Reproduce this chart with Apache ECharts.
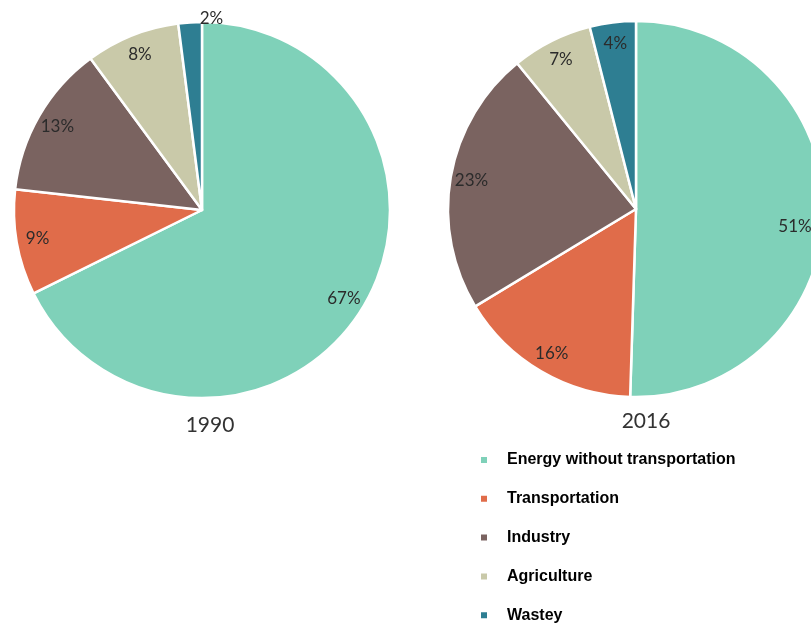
<!DOCTYPE html>
<html>
<head>
<meta charset="utf-8">
<script src="https://cdn.jsdelivr.net/npm/echarts@6/dist/echarts.min.js"></script>
<style>html,body{margin:0;padding:0;background:#fff}#c{width:811px;height:623px}</style>
</head>
<body>
<div id="c"></div>
<script>
var categories = ['Energy without transportation', 'Transportation', 'Industry', 'Agriculture', 'Wastey'];
var values1990 = [67, 9, 13, 8, 2];
var values2016 = [51, 16, 23, 7, 4];
var years = ['1990', '2016'];
var colors = ['#7fd1b9', '#e06c4a', '#7a6360', '#c9c9a9', '#2e7e92'];

function mk(vals) {
  return categories.map(function (n, i) { return { name: n, value: vals[i] }; });
}
function lab(vals, idx, off) {
  return categories.map(function (n, i) {
    var d = { name: n, value: vals[i] };
    if (i === idx) d.label = { offset: off };
    return d;
  });
}
var centers = [[202, 210], [636, 209]];
var R = 188;
var series = [];
[values1990, values2016].forEach(function (vals, k) {
  series.push({
    type: 'pie', center: centers[k], radius: [0, R],
    startAngle: 90, clockwise: true, silent: true,
    label: { show: false }, labelLine: { show: false },
    itemStyle: { borderColor: '#fff', borderWidth: 2.5 },
    emphasis: { disabled: true },
    data: mk(vals)
  });
});
[values1990, values2016].forEach(function (vals, k) {
  series.push({
    type: 'pie', center: centers[k], radius: [140, R],
    startAngle: 90, clockwise: true, silent: true,
    itemStyle: { color: 'rgba(0,0,0,0)' },
    emphasis: { disabled: true },
    avoidLabelOverlap: false,
    label: { show: true, position: 'inside', formatter: '{c}%',
      fontFamily: 'Lato', fontSize: 17, color: '#2b2b2b' },
    labelLine: { show: false },
    data: k === 0 ? lab(vals, 4, [20, -25]) : lab(vals, 0, [-8, 15])
  });
});

var chart = echarts.init(document.getElementById('c'));
chart.setOption({
  animation: false,
  color: colors,
  title: [
    { text: years[0], left: 210, top: 415, textAlign: 'center', padding: 0,
      textStyle: { fontFamily: 'Lato', fontSize: 21, fontWeight: 'normal', color: '#333' } },
    { text: years[1], left: 646, top: 411, textAlign: 'center', padding: 0,
      textStyle: { fontFamily: 'Lato', fontSize: 21, fontWeight: 'normal', color: '#333' } }
  ],
  legend: {
    orient: 'vertical', left: 479, top: 452, height: 200, padding: 0,
    data: categories, icon: 'rect', itemWidth: 8, itemHeight: 8, itemGap: 22.8,
    selectedMode: false,
    textStyle: { fontFamily: 'Liberation Sans', fontSize: 16, fontWeight: 'bold', color: '#000',
      padding: [0, 0, 0, 14] }
  },
  series: series
});
</script>
</body>
</html>
